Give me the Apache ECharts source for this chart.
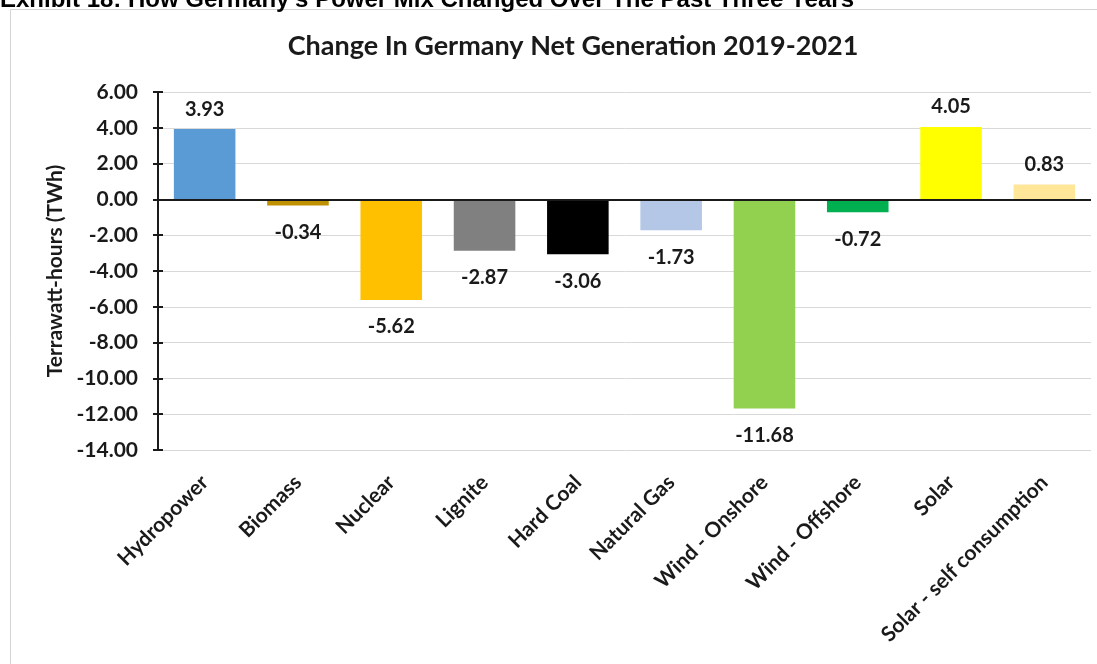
<!DOCTYPE html>
<html>
<head>
<meta charset="utf-8">
<script src="https://cdn.jsdelivr.net/npm/echarts@6/dist/echarts.min.js"></script>
<style>
  html, body { margin: 0; padding: 0; background: #fff; }
  #chart { width: 1097px; height: 664px; }
</style>
</head>
<body>
<div id="chart"></div>
<script>
// Net generation change by source, 2019-2021 (TWh)
const categories = ['Hydropower', 'Biomass', 'Nuclear', 'Lignite', 'Hard Coal', 'Natural Gas',
  'Wind - Onshore', 'Wind - Offshore', 'Solar', 'Solar - self consumption'];
const changeTWh = [3.93, -0.34, -5.62, -2.87, -3.06, -1.73, -11.68, -0.72, 4.05, 0.83];
const barColors = ['#5B9BD5', '#BF9000', '#FFC000', '#808080', '#000000', '#B4C7E7',
  '#92D050', '#00B050', '#FFFF00', '#FFE699'];
const yTicks = { min: -14, max: 6, interval: 2 };

const chart = echarts.init(document.getElementById('chart'));
const bodyFont = 'Lato';
const ink = '#1a1a1a';

chart.setOption({
  animation: false,
  backgroundColor: '#fff',
  title: {
    text: 'Change In Germany Net Generation 2019-2021',
    left: 568, top: 28, textAlign: 'center',
    textStyle: { fontFamily: bodyFont, fontWeight: 'bold', fontSize: 27, color: ink }
  },
  graphic: [
    {
      type: 'rect', silent: true, z: -1,
      shape: { x: 10.5, y: 9.5, width: 1100, height: 700 },
      style: { fill: '#fff', stroke: '#d4d4d4', lineWidth: 1 }
    },
    {
      type: 'text', left: 0, top: -12,
      style: {
        text: "Exhibit 18: How Germany's Power Mix Changed Over The Past Three Years",
        font: 'bold 24px "Liberation Sans", Arial, sans-serif', fill: '#000'
      }
    }
  ],
  grid: { left: 158, right: 6, top: 92, bottom: 214, containLabel: false },
  xAxis: [
    {
      type: 'category', data: categories, position: 'bottom',
      axisLine: { show: false, onZero: false },
      axisTick: { show: false },
      axisLabel: {
        rotate: 45, margin: 29, interval: 0,
        fontFamily: bodyFont, fontWeight: 'bold', fontSize: 21, color: ink
      }
    }
  ],
  yAxis: [
    {
      type: 'value', min: yTicks.min, max: yTicks.max, interval: yTicks.interval,
      name: 'Terrawatt-hours (TWh)', nameLocation: 'middle', nameGap: 89, nameRotate: 90,
      nameTextStyle: { fontFamily: bodyFont, fontWeight: 'bold', fontSize: 21, color: ink },
      axisLine: { show: true, lineStyle: { color: ink, width: 2 } },
      axisTick: { show: true, length: 5, lineStyle: { color: ink, width: 2 } },
      axisLabel: {
        margin: 20, fontFamily: bodyFont, fontWeight: 'bold', fontSize: 21, color: ink,
        formatter: v => v.toFixed(2)
      },
      splitLine: { show: true, lineStyle: { color: '#d9d9d9', width: 1 } }
    },
    {
      // inner half of the crossing tick marks
      type: 'value', min: yTicks.min, max: yTicks.max, interval: yTicks.interval,
      position: 'left',
      axisLine: { show: false },
      axisTick: { show: true, inside: true, length: 5, lineStyle: { color: ink, width: 2 } },
      axisLabel: { show: false },
      splitLine: { show: false }
    }
  ],
  series: [
    {
      type: 'bar',
      barWidth: '66%',
      data: changeTWh.map((v, i) => ({
        value: v,
        itemStyle: { color: barColors[i] },
        label: { position: v >= 0 ? 'top' : 'bottom', distance: v >= 0 ? 10 : 17 }
      })),
      label: {
        show: true,
        fontFamily: bodyFont, fontWeight: 'bold', fontSize: 20, color: ink,
        formatter: p => p.value.toFixed(2)
      },
      markLine: {
        silent: true, symbol: 'none', label: { show: false },
        lineStyle: { color: ink, width: 2, type: 'solid' },
        data: [{ yAxis: 0 }]
      }
    }
  ]
});
</script>
</body>
</html>
